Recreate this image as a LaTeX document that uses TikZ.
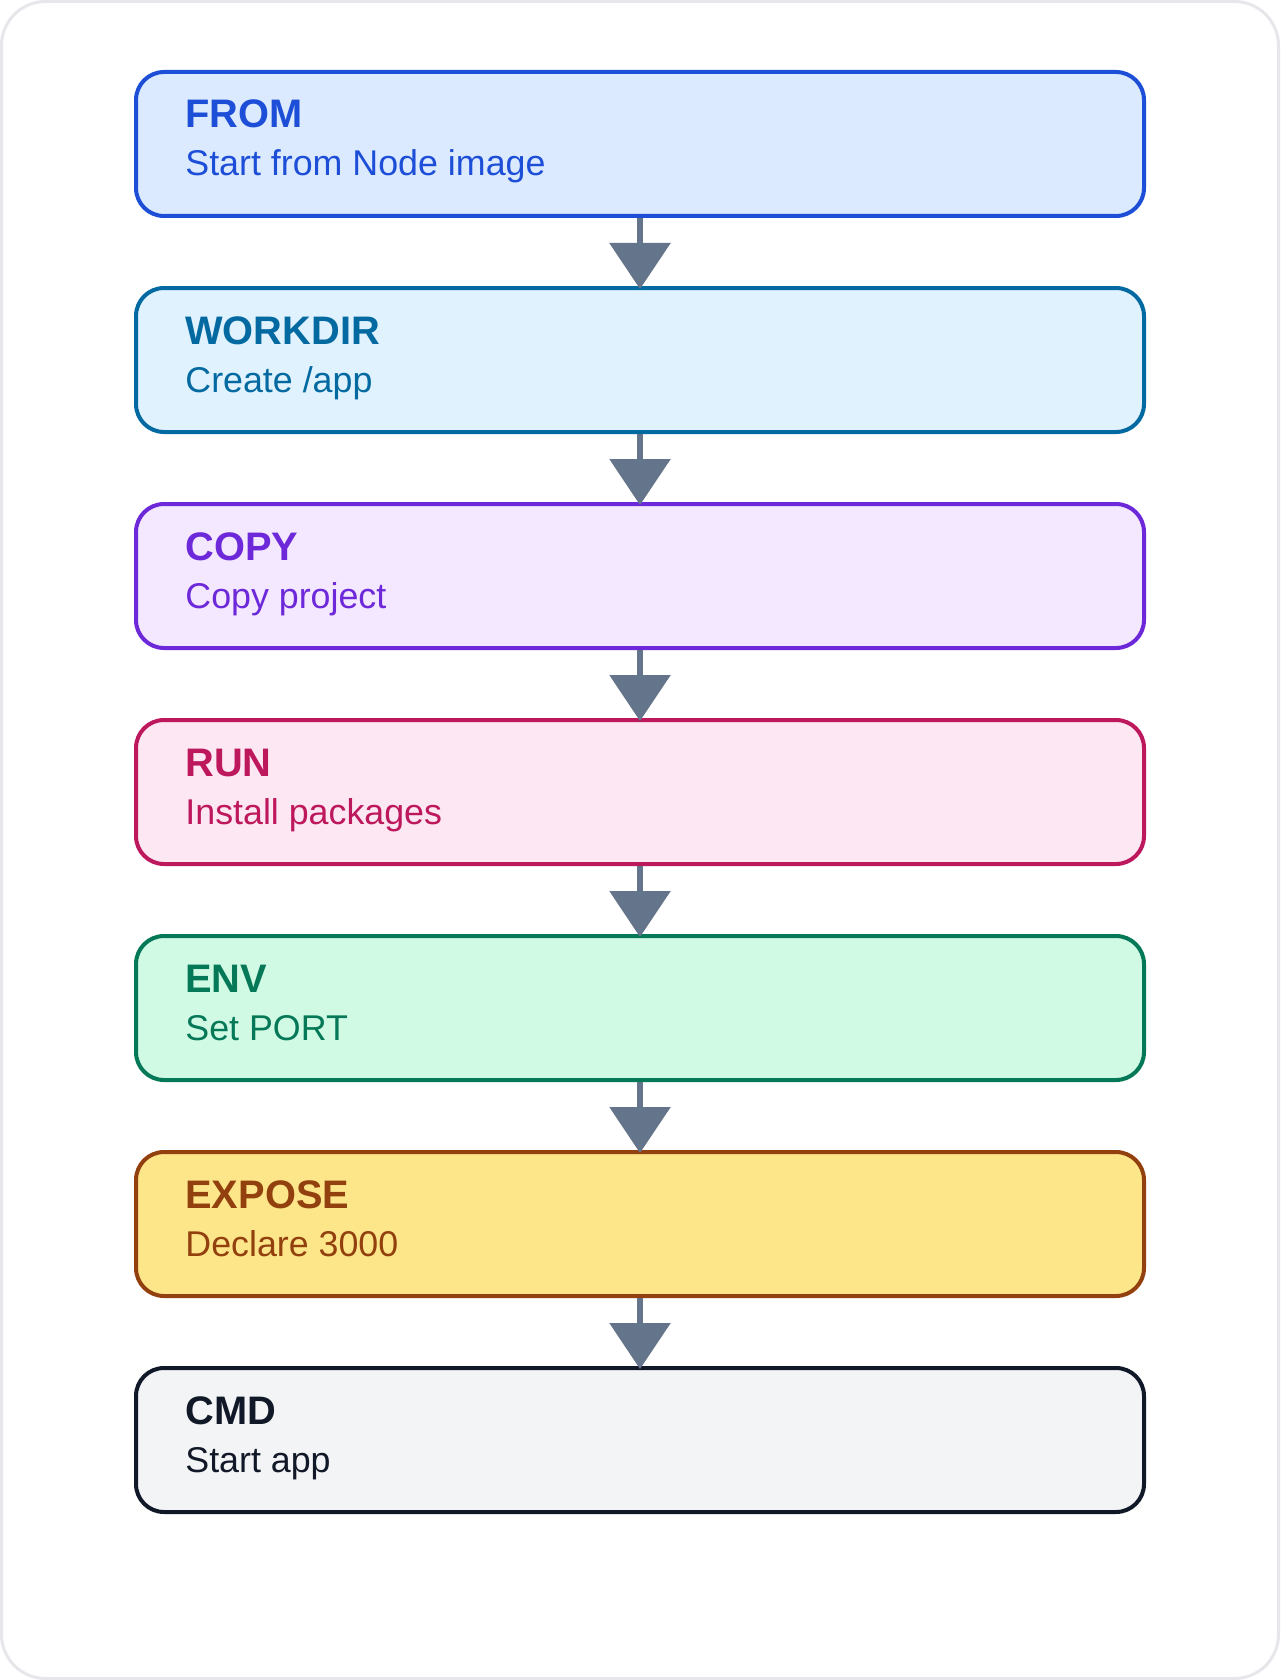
\documentclass[tikz,border=0pt]{standalone}
\usepackage{fontspec}
\setmainfont{Liberation Sans}
\usepackage{tikz}
\usetikzlibrary{arrows.meta, positioning}

\definecolor{fromline}{HTML}{1D4ED8}
\definecolor{fromfill}{HTML}{DBEAFE}
\definecolor{workline}{HTML}{0369A1}
\definecolor{workfill}{HTML}{E0F2FE}
\definecolor{copyline}{HTML}{6D28D9}
\definecolor{copyfill}{HTML}{F3E8FF}
\definecolor{runline}{HTML}{BE185D}
\definecolor{runfill}{HTML}{FCE7F3}
\definecolor{envline}{HTML}{047857}
\definecolor{envfill}{HTML}{D1FAE5}
\definecolor{exposeline}{HTML}{92400E}
\definecolor{exposefill}{HTML}{FDE68A}
\definecolor{cmdline}{HTML}{111827}
\definecolor{cmdfill}{HTML}{F3F4F6}
\definecolor{arrowgray}{HTML}{64748B}
\definecolor{framegray}{HTML}{E5E7EB}

\tikzset{
  stepbox/.style={draw, line width=2pt, rounded corners=14pt,
    minimum width=504pt, minimum height=72pt, inner sep=0pt},
  steptitle/.style={anchor=base west, inner sep=0pt,
    font=\bfseries\fontsize{19.9}{23}\selectfont},
  stepnote/.style={anchor=base west, inner sep=0pt,
    font=\fontsize{17.9}{21}\selectfont},
  flow/.style={draw=arrowgray, line width=3pt, shorten >=-1.5pt,
    -{Triangle[length=23pt, width=30pt]}, arrowgray}
}

\begin{document}
\begin{tikzpicture}[x=0.5pt, y=-0.5pt]
  \useasboundingbox (0,0) rectangle (1280,1680);
  % Outer frame
  \draw[framegray, line width=1.5pt, rounded corners=22pt, fill=white]
    (1.5,1.5) rectangle (1278.5,1678.5);

  % Steps
  \node[stepbox, draw=fromline, fill=fromfill] (from) at (640,144) {};
  \node[steptitle, fromline] (fromT) at (185,128) {FROM};
  \node[stepnote, fromline] (fromN) at (185,176) {Start from Node image};

  \node[stepbox, draw=workline, fill=workfill] (workdir) at (640,360) {};
  \node[steptitle, workline] (workdirT) at (185,344) {WORKDIR};
  \node[stepnote, workline] (workdirN) at (185,392) {Create /app};

  \node[stepbox, draw=copyline, fill=copyfill] (copy) at (640,576) {};
  \node[steptitle, copyline] (copyT) at (185,560) {COPY};
  \node[stepnote, copyline] (copyN) at (185,608) {Copy project};

  \node[stepbox, draw=runline, fill=runfill] (run) at (640,792) {};
  \node[steptitle, runline] (runT) at (185,776) {RUN};
  \node[stepnote, runline] (runN) at (185,824) {Install packages};

  \node[stepbox, draw=envline, fill=envfill] (env) at (640,1008) {};
  \node[steptitle, envline] (envT) at (185,992) {ENV};
  \node[stepnote, envline] (envN) at (185,1040) {Set PORT};

  \node[stepbox, draw=exposeline, fill=exposefill] (expose) at (640,1224) {};
  \node[steptitle, exposeline] (exposeT) at (185,1208) {EXPOSE};
  \node[stepnote, exposeline] (exposeN) at (185,1256) {Declare 3000};

  \node[stepbox, draw=cmdline, fill=cmdfill] (cmd) at (640,1440) {};
  \node[steptitle, cmdline] (cmdT) at (185,1424) {CMD};
  \node[stepnote, cmdline] (cmdN) at (185,1472) {Start app};

  % Arrows
  \draw[flow] (from.south) -- (workdir.north);
  \draw[flow] (workdir.south) -- (copy.north);
  \draw[flow] (copy.south) -- (run.north);
  \draw[flow] (run.south) -- (env.north);
  \draw[flow] (env.south) -- (expose.north);
  \draw[flow] (expose.south) -- (cmd.north);
\end{tikzpicture}
\end{document}
